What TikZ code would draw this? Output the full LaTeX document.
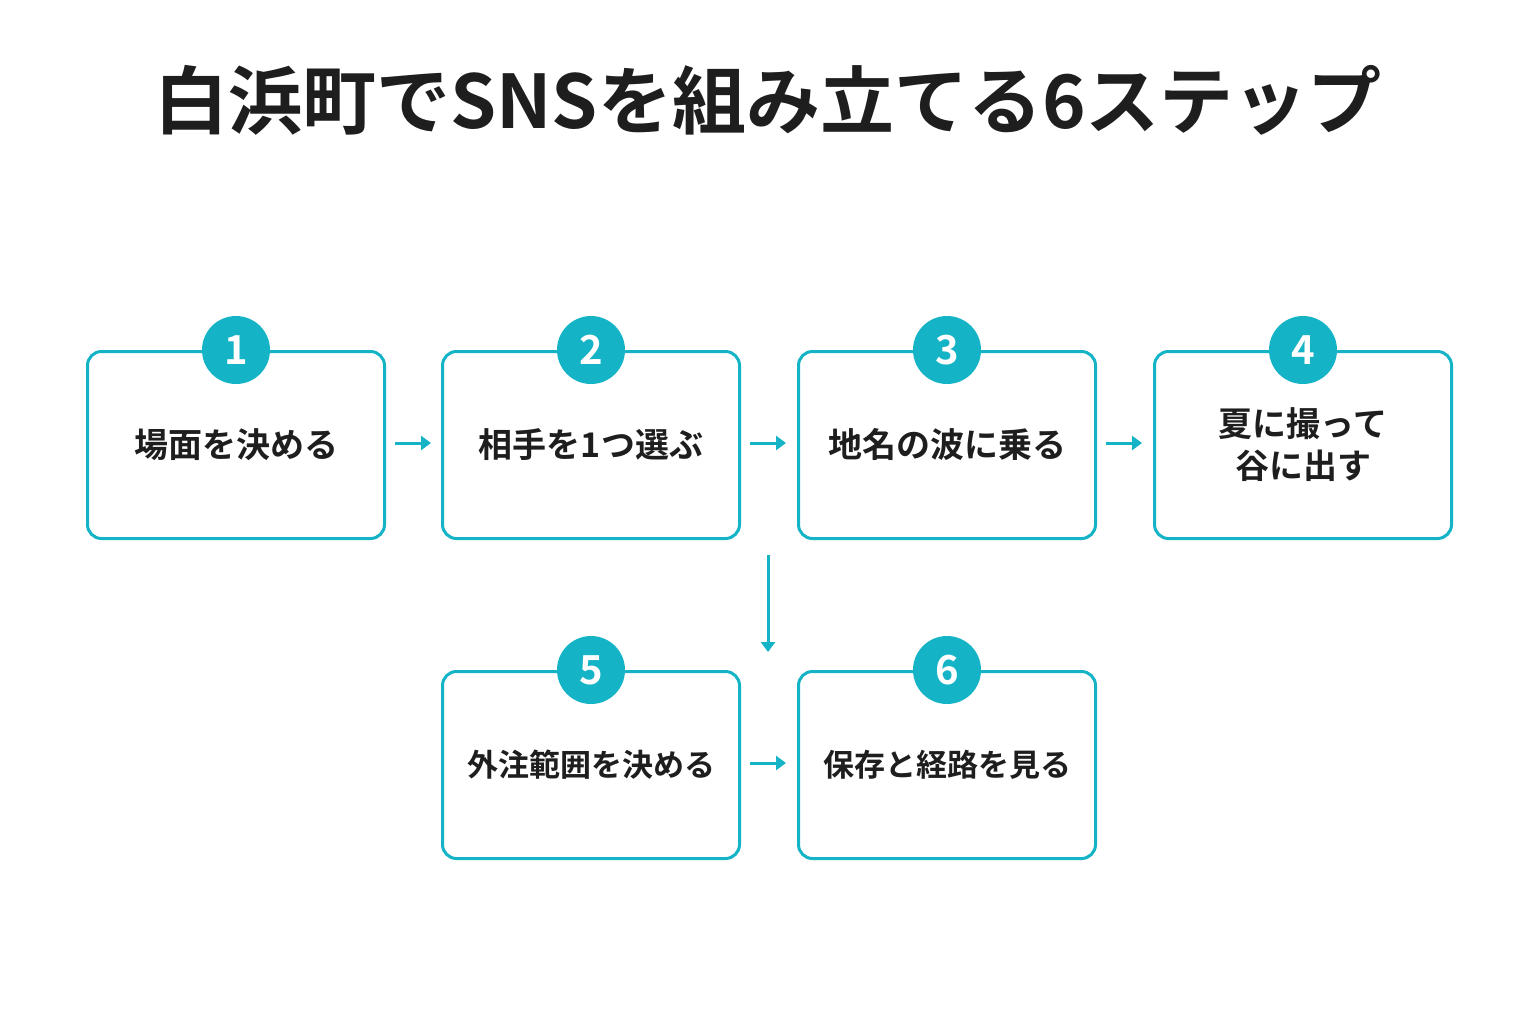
\documentclass[tikz,border=0pt]{standalone}
\usepackage{fontspec}
\usetikzlibrary{arrows.meta}
\setmainfont{Noto Sans CJK JP}[BoldFont={* Bold}]
\definecolor{teal}{HTML}{14B3C6}
\definecolor{ink}{HTML}{1E1E1E}
\begin{document}
\begin{tikzpicture}[x=0.5pt,y=-0.5pt,
 box/.style={draw=teal,line width=1.5pt,rounded corners=7pt,minimum width=148.5pt,minimum height=93.5pt,anchor=north west,inner sep=0pt,font=\bfseries\fontsize{17}{21}\selectfont,text=ink,align=center},
 num/.style={circle,fill=teal,minimum size=34pt,inner sep=0pt,text=white,font=\bfseries\fontsize{20}{20}\selectfont},
 arr/.style={draw=teal,line width=1.5pt,-{Triangle[length=5pt,width=7pt]}}]
\useasboundingbox (0,0) rectangle (1536,1024);
\node[font=\bfseries\fontsize{37}{40}\selectfont,text=ink] (title) at (768,100) {白浜町でSNSを組み立てる6ステップ};
\node[box] (b1) at (86,350) {場面を決める};
\node[box] (b2) at (441,350) {相手を1つ選ぶ};
\node[box] (b3) at (797,350) {地名の波に乗る};
\node[box] (b4) at (1153,350) {夏に撮って\\谷に出す};
\node[box,font=\bfseries\fontsize{15.5}{20}\selectfont] (b5) at (441,670) {外注範囲を決める};
\node[box,font=\bfseries\fontsize{15.5}{20}\selectfont] (b6) at (797,670) {保存と経路を見る};
\foreach \b/\n in {b1/1,b2/2,b3/3,b4/4,b5/5,b6/6}{\node[num] (n\n) at (\b.north) {\n};}
\coordinate (a1s) at (395,443); \coordinate (a1e) at (431,443);
\coordinate (a2s) at (750,443); \coordinate (a2e) at (786,443);
\coordinate (a3s) at (1106,443); \coordinate (a3e) at (1142,443);
\coordinate (ds) at (768,555); \coordinate (de) at (768,652);
\coordinate (a5s) at (750,763); \coordinate (a5e) at (786,763);
\draw[arr] (a1s) -- (a1e);
\draw[arr] (a2s) -- (a2e);
\draw[arr] (a3s) -- (a3e);
\draw[arr] (ds) -- (de);
\draw[arr] (a5s) -- (a5e);
\end{tikzpicture}
\end{document}
